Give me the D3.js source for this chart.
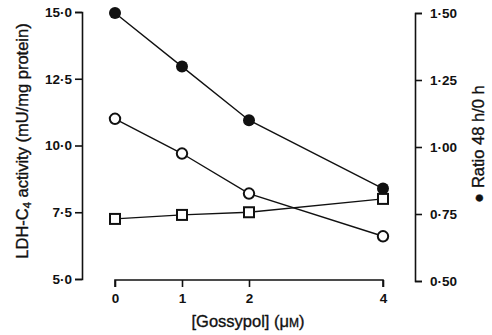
<!DOCTYPE html>
<html>
<head>
<meta charset="utf-8">
<script src="https://cdn.jsdelivr.net/npm/d3@7"></script>
<style>
  html, body { margin: 0; padding: 0; background: #fff; }
  svg { display: block; }
  text { font-family: "Liberation Sans", Arial, Helvetica, sans-serif; fill: #111; }
  .title { stroke: #111; stroke-width: 0.35px; }
</style>
</head>
<body>
<svg id="chart" width="492" height="335"></svg>
<script>
// Gossypol concentrations (µM)
const doses = [0, 1, 2, 4];
// LDH-C4 activity (mU/mg protein), open circles
const activityOpen = [11.0, 9.7, 8.2, 6.6];
// LDH-C4 activity (mU/mg protein), open squares
const activitySquare = [7.25, 7.4, 7.5, 8.0];
// Ratio 48 h / 0 h, filled circles (right axis)
const ratio = [1.50, 1.30, 1.10, 0.845];

const leftTicks = [5, 7.5, 10, 12.5, 15];
const rightTicks = [0.5, 0.75, 1.0, 1.25, 1.5];
const xTicks = [0, 1, 2, 4];

const fmtDot = (d, n) => d.toFixed(n).replace(".", "\u00B7");

const svg = d3.select("#chart");

const x = d3.scaleLinear().domain([0, 4]).range([115, 383]);
const yL = d3.scaleLinear().domain([5, 15]).range([279, 12]);
const yR = d3.scaleLinear().domain([0.5, 1.5]).range([281, 13]);

// Left axis
const gL = svg.append("g").attr("transform", "translate(82,0)")
  .call(d3.axisLeft(yL).tickValues(leftTicks).tickSize(7).tickPadding(3)
    .tickFormat(d => fmtDot(d, 1)));
// Right axis
const gR = svg.append("g").attr("transform", "translate(415,0)")
  .call(d3.axisRight(yR).tickValues(rightTicks).tickSize(7).tickPadding(8)
    .tickFormat(d => fmtDot(d, 2)));
// Bottom axis
const gB = svg.append("g").attr("transform", "translate(0,280)")
  .call(d3.axisBottom(x).tickValues(xTicks).tickSize(7).tickPadding(6)
    .tickFormat(d3.format("d")));

[gL, gR, gB].forEach(g => {
  g.select(".domain").attr("stroke", "#111").attr("stroke-width", 1.6);
  g.selectAll(".tick line").attr("stroke", "#111").attr("stroke-width", 1.6);
  g.selectAll(".tick text").attr("font-size", 13.5).attr("font-weight", "bold")
    .style("font-family", "'Liberation Sans', Arial, sans-serif").attr("fill", "#111");
});
// bottom domain: end brackets only at the real extreme ticks
gB.select(".domain").attr("d", `M${x(0)},7V0H${x(4)}V7`);

// Axis titles
const leftTitle = svg.append("text").attr("class", "title")
  .attr("transform", "translate(28,141) rotate(-90)")
  .attr("text-anchor", "middle")
  .attr("font-size", 16.5);
leftTitle.append("tspan").text("LDH-C");
leftTitle.append("tspan").attr("font-size", 11).attr("dy", 3).text("4");
leftTitle.append("tspan").attr("dy", -3).text(" activity (mU/mg protein)");

svg.append("text").attr("class", "title")
  .attr("transform", "translate(484,144) rotate(-90)")
  .attr("text-anchor", "middle")
  .attr("font-size", 16.5)
  .text("\u25CF Ratio 48 h/0 h");

const xTitle = svg.append("text").attr("class", "title")
  .attr("x", 248).attr("y", 327)
  .attr("text-anchor", "middle")
  .attr("font-size", 16.5);
xTitle.append("tspan").text("[Gossypol] (\u03BC");
xTitle.append("tspan").attr("font-size", 12).text("M");
xTitle.append("tspan").text(")");

// Lines
const lineL = d3.line().x((d, i) => x(doses[i])).y(d => yL(d));
const lineR = d3.line().x((d, i) => x(doses[i])).y(d => yR(d));

svg.append("path").datum(ratio).attr("d", lineR)
  .attr("fill", "none").attr("stroke", "#111").attr("stroke-width", 1.4);
svg.append("path").datum(activityOpen).attr("d", lineL)
  .attr("fill", "none").attr("stroke", "#111").attr("stroke-width", 1.4);
svg.append("path").datum(activitySquare).attr("d", lineL)
  .attr("fill", "none").attr("stroke", "#111").attr("stroke-width", 1.4);

// Markers
svg.selectAll(".sq").data(activitySquare).enter().append("rect")
  .attr("x", (d, i) => x(doses[i]) - 5).attr("y", d => yL(d) - 5)
  .attr("width", 10).attr("height", 10)
  .attr("fill", "#fff").attr("stroke", "#111").attr("stroke-width", 2);
svg.selectAll(".oc").data(activityOpen).enter().append("circle")
  .attr("cx", (d, i) => x(doses[i])).attr("cy", d => yL(d)).attr("r", 5.2)
  .attr("fill", "#fff").attr("stroke", "#111").attr("stroke-width", 2);
svg.selectAll(".fc").data(ratio).enter().append("circle")
  .attr("cx", (d, i) => x(doses[i])).attr("cy", d => yR(d)).attr("r", 6)
  .attr("fill", "#111");
</script>
</body>
</html>
